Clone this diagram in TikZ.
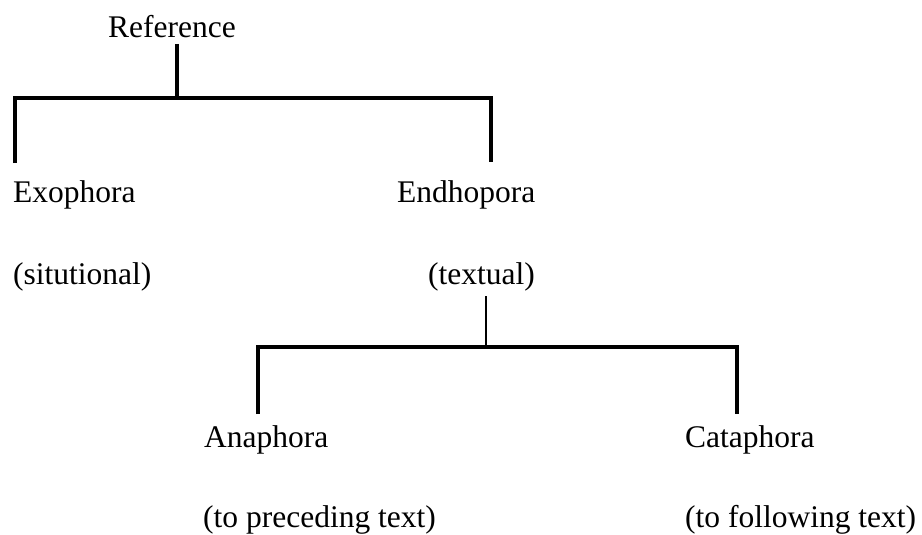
\documentclass[tikz,border=0pt]{standalone}
\usepackage{fontspec}
\setmainfont{Liberation Serif}
\begin{document}
\begin{tikzpicture}[x=1pt,y=-1pt,
  lbl/.style={anchor=base west,inner sep=0pt,font=\fontsize{31.5}{38}\selectfont},
  bar/.style={line width=4.5pt,line cap=butt,line join=miter},
  stem/.style={line width=4pt,line cap=butt},
  thinstem/.style={line width=2.6pt,line cap=butt}]
\useasboundingbox[fill=white] (0,0) rectangle (922,535);
% texts
\node[lbl] (ref)  at (108,38)  {Reference};
\node[lbl] (exo)  at (13,202)  {Exophora};
\node[lbl] (endo) at (397,202) {Endhopora};
\node[lbl] (situ) at (13,284)  {(situtional)};
\node[lbl] (txt)  at (428,284) {(textual)};
\node[lbl] (ana)  at (204,447) {Anaphora};
\node[lbl] (cata) at (685,447) {Cataphora};
\node[lbl] (prec) at (203,527) {(to preceding text)};
\node[lbl] (foll) at (685,527) {(to following text)};
% junction coordinates, first bracket
\coordinate (s1top) at (177,44);
\coordinate (s1bot) at (177,98);
\coordinate (l1top) at (15,98);
\coordinate (l1bot) at (15,163);
\coordinate (r1top) at (491,98);
\coordinate (r1bot) at (491,162);
% second bracket
\coordinate (s2top) at (486,296);
\coordinate (s2bot) at (486,347);
\coordinate (l2top) at (258,347);
\coordinate (l2bot) at (258,414);
\coordinate (r2top) at (737,347);
\coordinate (r2bot) at (737,414);
% connectors
\draw[stem] (s1top) -- (s1bot);
\draw[bar] (l1bot) -- (l1top) -- (r1top) -- (r1bot);
\draw[thinstem] (s2top) -- (s2bot);
\draw[bar] (l2bot) -- (l2top) -- (r2top) -- (r2bot);
\end{tikzpicture}
\end{document}
